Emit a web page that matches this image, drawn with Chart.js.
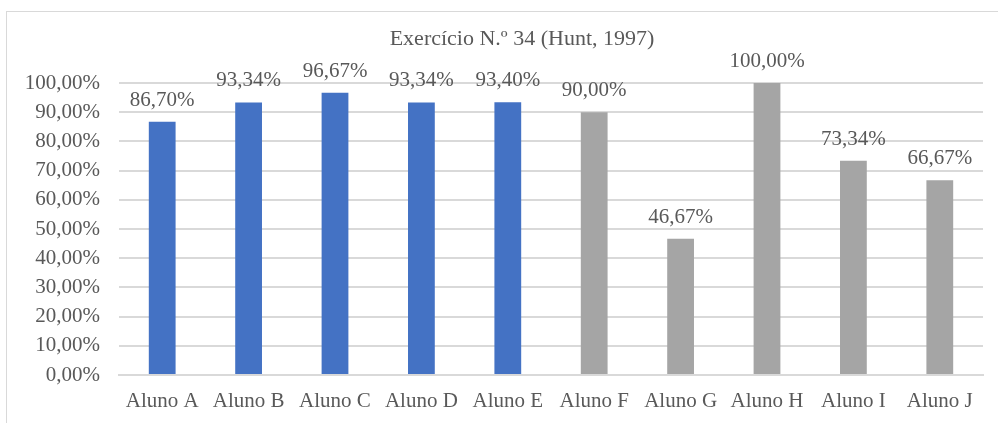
<!DOCTYPE html>
<html>
<head>
<meta charset="utf-8">
<script src="https://cdn.jsdelivr.net/npm/chart.js@4/dist/chart.umd.min.js"></script>
<style>
    html, body { margin: 0; padding: 0; background: #fff; overflow: hidden; }
    #wrap { position: relative; width: 998px; height: 423px; }
    #frame { position: absolute; left: 6px; top: 11px; width: 1010px; height: 430px; border: 1px solid #d9d9d9; }
    #chart { position: absolute; left: 0; top: 0; }
</style>
</head>
<body>
<div id="wrap">
    <div id="frame"></div>
    <canvas id="chart" width="998" height="423"></canvas>
</div>
<script>
    var titulo = 'Exercício N.º 34 (Hunt, 1997)';
    var alunos = ['Aluno A', 'Aluno B', 'Aluno C', 'Aluno D', 'Aluno E', 'Aluno F', 'Aluno G', 'Aluno H', 'Aluno I', 'Aluno J'];
    var valores = [86.70, 93.34, 96.67, 93.34, 93.40, 90.00, 46.67, 100.00, 73.34, 66.67];
    var rotulos = ['86,70%', '93,34%', '96,67%', '93,34%', '93,40%', '90,00%', '46,67%', '100,00%', '73,34%', '66,67%'];
    var grupos = ['azul', 'azul', 'azul', 'azul', 'azul', 'cinza', 'cinza', 'cinza', 'cinza', 'cinza'];

    var cores = { azul: '#4472c4', cinza: '#a5a5a5' };
    var fonte = '"Liberation Serif", "Times New Roman", serif';
    var corTexto = '#595959';

    function fmtPct(v) {
        return v.toFixed(2).replace('.', ',') + '%';
    }

    // titulo (centrado na moldura, nao no canvas) e rotulos de dados
    var rotulosPlugin = {
        id: 'rotulos',
        afterDatasetsDraw: function (chart) {
            var ctx = chart.ctx;
            var meta = chart.getDatasetMeta(0);
            ctx.save();
            ctx.fillStyle = corTexto;
            ctx.textAlign = 'center';

            ctx.font = '22px ' + fonte;
            ctx.textBaseline = 'middle';
            ctx.fillText(titulo, 522, 39);

            ctx.font = '21px ' + fonte;
            ctx.textBaseline = 'alphabetic';
            meta.data.forEach(function (bar, i) {
                ctx.fillText(rotulos[i], bar.x, bar.y - 16);
            });
            ctx.restore();
        }
    };

    var ctx = document.getElementById('chart').getContext('2d');
    var myChart = new Chart(ctx, {
        type: 'bar',
        data: {
            labels: alunos,
            datasets: [{
                data: valores,
                backgroundColor: grupos.map(function (g) { return cores[g]; }),
                borderWidth: 0,
                categoryPercentage: 1,
                barPercentage: 0.31
            }]
        },
        options: {
            responsive: false,
            animation: false,
            layout: { padding: { left: 0, right: 15, top: 83, bottom: 0 } },
            plugins: {
                legend: { display: false },
                tooltip: { enabled: false },
                title: { display: false }
            },
            scales: {
                x: {
                    grid: { display: false, drawTicks: false },
                    border: { color: '#d9d9d9', width: 2 },
                    ticks: {
                        color: corTexto,
                        font: { family: fonte, size: 21 },
                        padding: 14,
                        maxRotation: 0
                    },
                    afterFit: function (scale) { scale.height = 48; }
                },
                y: {
                    min: 0,
                    max: 100,
                    grid: { color: '#d9d9d9', lineWidth: 2, drawTicks: false },
                    border: { display: false },
                    ticks: {
                        stepSize: 10,
                        color: corTexto,
                        font: { family: fonte, size: 21 },
                        padding: 19,
                        callback: function (v) { return fmtPct(v); }
                    },
                    afterFit: function (scale) { scale.width = 119; }
                }
            }
        },
        plugins: [rotulosPlugin]
    });
</script>
</body>
</html>
